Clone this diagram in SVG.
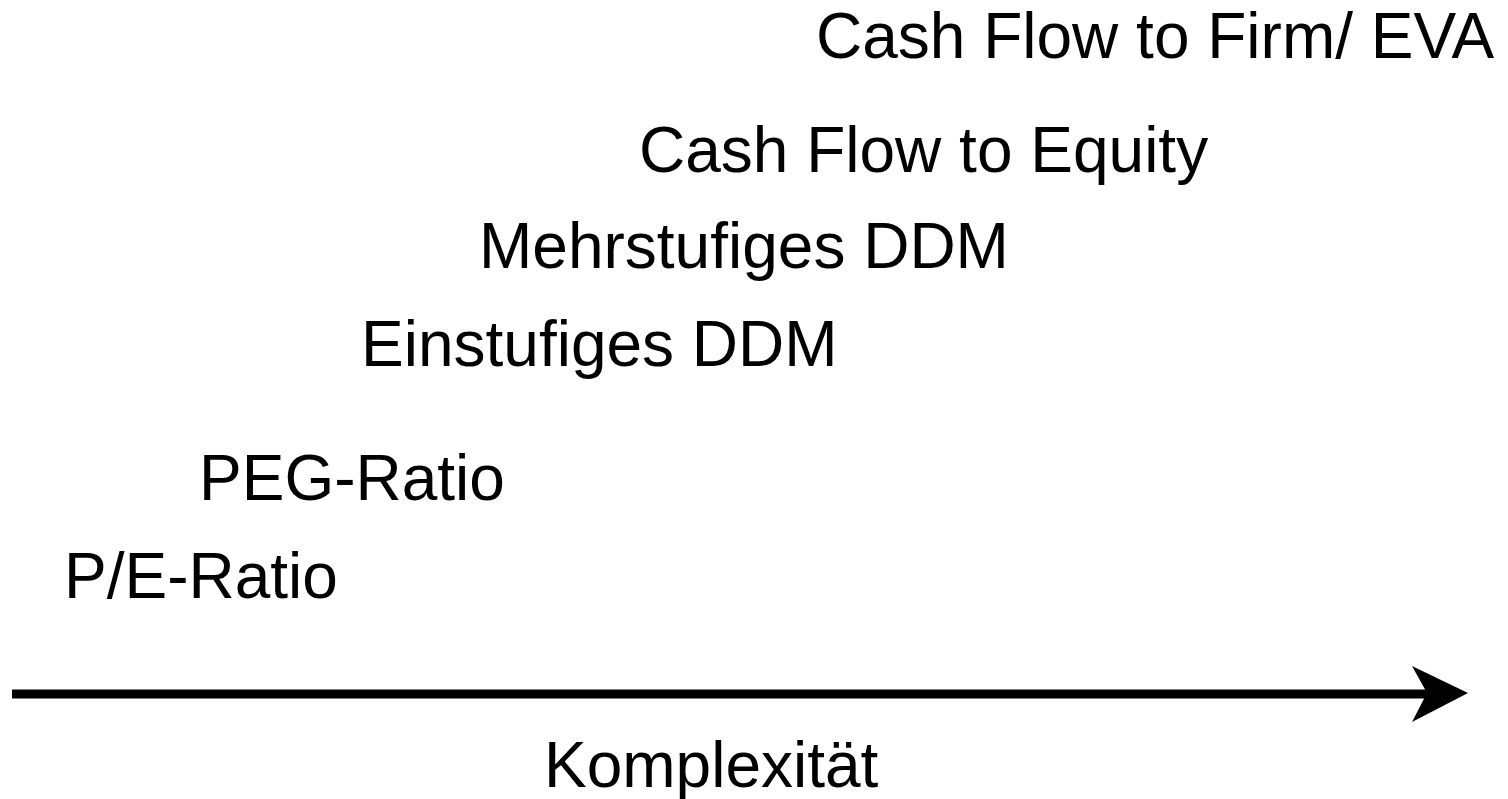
<svg xmlns="http://www.w3.org/2000/svg" width="1508" height="799" viewBox="0 0 1508 799">
<style>
text{font-family:"Liberation Sans",Arial,sans-serif;font-size:64px;fill:#000}
</style>
<rect width="1508" height="799" fill="#fff"/>
<g id="connectors">
<line x1="12" y1="694" x2="1430" y2="694" stroke="#000" stroke-width="9"/>
<polygon points="1468,693 1412,666 1427,693 1412,722" fill="#000"/>
</g>
<g id="n1"><text x="816" y="58">Cash Flow to Firm/ EVA</text></g>
<g id="n2"><text x="639" y="172">Cash Flow to Equity</text></g>
<g id="n3"><text x="479" y="268">Mehrstufiges DDM</text></g>
<g id="n4"><text x="361" y="366">Einstufiges DDM</text></g>
<g id="n5"><text x="199" y="500">PEG-Ratio</text></g>
<g id="n6"><text x="64" y="598">P/E-Ratio</text></g>
<g id="label"><text x="544" y="787">Komplexität</text></g>
</svg>
